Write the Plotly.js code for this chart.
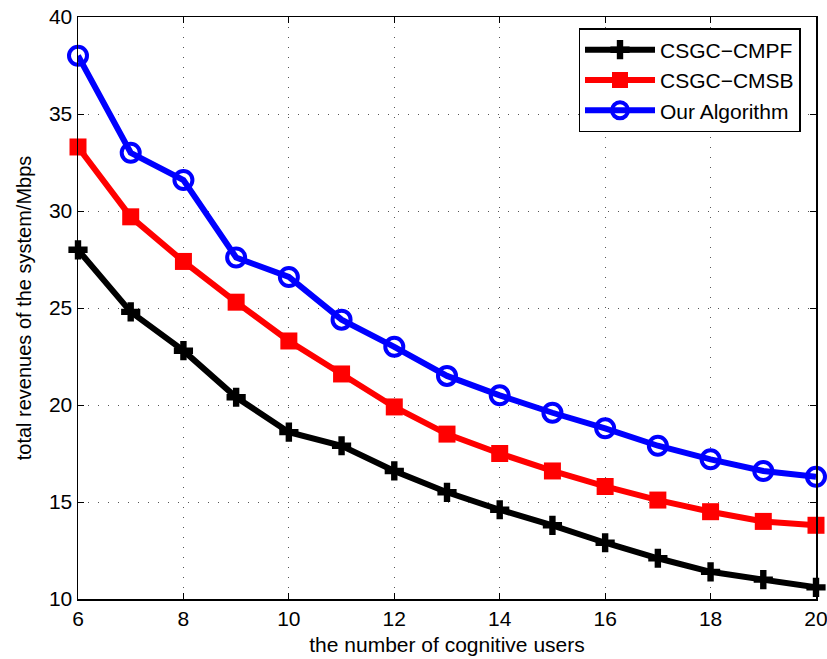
<!DOCTYPE html>
<html>
<head>
<meta charset="utf-8">
<script src="https://cdn.plot.ly/plotly-3.0.1.min.js"></script>
<style>html,body{margin:0;padding:0;background:#fff;}#chart{width:827px;height:659px;}</style>
</head>
<body>
<div id="chart"></div>
<script>
var users = [6, 7, 8, 9, 10, 11, 12, 13, 14, 15, 16, 17, 18, 19, 20];
var cmpf = [28.0, 24.8, 22.8, 20.4, 18.6, 17.9, 16.6, 15.5, 14.6, 13.8, 12.9, 12.1, 11.4, 11.0, 10.6];
var cmsb = [33.3, 29.7, 27.4, 25.3, 23.3, 21.6, 19.9, 18.5, 17.5, 16.6, 15.8, 15.1, 14.5, 14.0, 13.8];
var ours = [38.0, 33.0, 31.6, 27.6, 26.6, 24.4, 23.0, 21.5, 20.5, 19.6, 18.8, 17.9, 17.2, 16.6, 16.3];
var names = ['CSGC\u2212CMPF', 'CSGC\u2212CMSB', 'Our Algorithm'];
var xTicks = [6, 8, 10, 12, 14, 16, 18, 20];
var yTicks = [10, 15, 20, 25, 30, 35, 40];

var font = 'Liberation Sans, Arial, Helvetica, sans-serif';
var traces = [
  {x: users, y: cmpf, name: names[0], mode: 'lines+markers', cliponaxis: false,
   line: {color: '#000000', width: 6},
   marker: {symbol: 'cross', size: 16, color: '#000000', line: {width: 0}}},
  {x: users, y: cmsb, name: names[1], mode: 'lines+markers', cliponaxis: false,
   line: {color: '#ff0000', width: 6},
   marker: {symbol: 'square', size: 17, color: '#ff0000', line: {width: 0}}},
  {x: users, y: ours, name: names[2], mode: 'lines+markers', cliponaxis: false,
   line: {color: '#0000ff', width: 6},
   marker: {symbol: 'circle-open', size: 18, color: '#0000ff', line: {width: 4, color: '#0000ff'}}}
];

var axisCommon = {
  showline: true, linecolor: '#000', linewidth: 1.5, mirror: 'ticks',
  ticks: 'inside', ticklen: 6, tickcolor: '#000', tickwidth: 1,
  showgrid: true, gridcolor: '#555', griddash: '1px,9px', gridwidth: 1,
  zeroline: false, ticklabeloverflow: 'allow',
  tickfont: {family: font, size: 21, color: '#000'}
};

var layout = {
  width: 827, height: 659,
  margin: {l: 78, r: 11, t: 17, b: 60},
  paper_bgcolor: '#fff', plot_bgcolor: '#fff',
  showlegend: true,
  xaxis: Object.assign({}, axisCommon, {
    range: [6, 20], tickvals: xTicks, ticktext: xTicks.map(String),
    title: {text: 'the number of cognitive users', font: {family: font, size: 21, color: '#000'}, standoff: 8}
  }),
  yaxis: Object.assign({}, axisCommon, {
    range: [10, 40], tickvals: yTicks, ticktext: yTicks.map(String),
    title: {text: 'total revenues of the system/Mbps', font: {family: font, size: 20, color: '#000'}, standoff: 12}
  }),
  legend: {
    x: 0.979, y: 0.981, xanchor: 'right', yanchor: 'top',
    bgcolor: '#fff', bordercolor: '#000', borderwidth: 1.5,
    font: {family: font, size: 21, color: '#000'},
    itemwidth: 70, tracegroupgap: 0
  }
};

Plotly.newPlot('chart', traces, layout, {displayModeBar: false, staticPlot: true});
</script>
</body>
</html>
